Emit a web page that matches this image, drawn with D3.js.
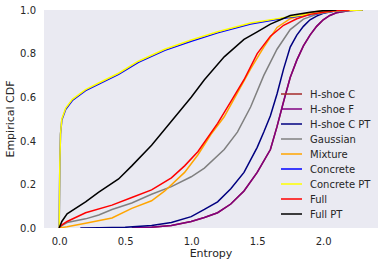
<!DOCTYPE html>
<html>
<head>
<meta charset="utf-8">
<script src="https://cdn.jsdelivr.net/npm/d3@7"></script>
<style>
  body { margin: 0; background: #fff; }
  text { font-family: "DejaVu Sans", sans-serif; fill: #262626; }
</style>
</head>
<body>
<script>
// Size of the svg and the plot area
var width = 386;
var height = 266;
var margin = {left: 44, right: 8, top: 10, bottom: 38};

// Series names and colours, in drawing order
var seriesNames = ["H-shoe C", "H-shoe F", "H-shoe C PT", "Gaussian", "Mixture", "Concrete", "Concrete PT", "Full", "Full PT"];
var seriesColors = ["#a52a2a", "#800080", "#000080", "#808080", "#ffa500", "#0000ff", "#ffff00", "#ff0000", "#000000"];

// Entropy (x) and empirical CDF (y)
var hshoeCX = [0.55, 0.7, 0.85, 1.0, 1.1, 1.2, 1.3, 1.4, 1.5, 1.6, 1.65, 1.7, 1.75, 1.8, 1.85, 1.9, 1.95, 2.0, 2.05, 2.1, 2.2, 2.3];
var hshoeCY = [0, 0.004, 0.012, 0.03, 0.048, 0.07, 0.11, 0.17, 0.255, 0.36, 0.465, 0.58, 0.69, 0.77, 0.835, 0.885, 0.925, 0.955, 0.975, 0.987, 0.998, 1.0];

var hshoeFX = [0.55, 0.7, 0.85, 1.0, 1.1, 1.2, 1.3, 1.4, 1.5, 1.6, 1.65, 1.7, 1.75, 1.8, 1.85, 1.9, 1.95, 2.0, 2.05, 2.1, 2.2, 2.3];
var hshoeFY = [0, 0.004, 0.012, 0.03, 0.048, 0.07, 0.11, 0.17, 0.255, 0.36, 0.465, 0.58, 0.69, 0.77, 0.835, 0.885, 0.925, 0.955, 0.975, 0.987, 0.998, 1.0];

var hshoeCPTX = [0.16, 0.3, 0.5, 0.7, 0.85, 1.0, 1.1, 1.2, 1.3, 1.4, 1.5, 1.55, 1.6, 1.65, 1.7, 1.75, 1.8, 1.85, 1.9, 1.95, 2.0, 2.1, 2.2];
var hshoeCPTY = [0, 0.001, 0.003, 0.012, 0.025, 0.052, 0.085, 0.12, 0.18, 0.255, 0.37, 0.44, 0.515, 0.615, 0.73, 0.83, 0.885, 0.925, 0.955, 0.972, 0.985, 0.997, 1.0];

var gaussianX = [0, 0.03, 0.06, 0.2, 0.3, 0.4, 0.55, 0.7, 0.85, 1.0, 1.1, 1.25, 1.35, 1.45, 1.55, 1.65, 1.75, 1.85, 1.95, 2.05, 2.15];
var gaussianY = [0, 0.015, 0.025, 0.042, 0.06, 0.085, 0.115, 0.155, 0.19, 0.235, 0.275, 0.36, 0.44, 0.555, 0.7, 0.82, 0.91, 0.958, 0.98, 0.993, 1.0];

var mixtureX = [0, 0.06, 0.2, 0.4, 0.55, 0.7, 0.8, 0.95, 1.05, 1.15, 1.25, 1.35, 1.45, 1.55, 1.65, 1.75, 1.85, 1.95, 2.05];
var mixtureY = [0, 0.006, 0.022, 0.046, 0.09, 0.125, 0.17, 0.255, 0.335, 0.43, 0.51, 0.62, 0.73, 0.83, 0.92, 0.96, 0.98, 0.993, 1.0];

var concreteX = [0, 0.005, 0.01, 0.02, 0.05, 0.1, 0.2, 0.3, 0.45, 0.6, 0.8, 1.0, 1.2, 1.45, 1.7, 1.9, 2.1, 2.3];
var concreteY = [0, 0.3, 0.43, 0.495, 0.545, 0.585, 0.63, 0.66, 0.705, 0.76, 0.815, 0.857, 0.895, 0.936, 0.962, 0.978, 0.996, 1.0];

var concretePTX = [0, 0.005, 0.01, 0.02, 0.05, 0.1, 0.2, 0.3, 0.45, 0.6, 0.8, 1.0, 1.2, 1.45, 1.7, 1.9, 2.1, 2.3];
var concretePTY = [0, 0.3, 0.43, 0.5, 0.55, 0.59, 0.635, 0.665, 0.71, 0.765, 0.82, 0.862, 0.9, 0.94, 0.965, 0.98, 0.997, 1.0];

var fullX = [0, 0.01, 0.06, 0.2, 0.4, 0.55, 0.7, 0.85, 0.95, 1.05, 1.2, 1.3, 1.4, 1.5, 1.6, 1.7, 1.8, 1.9, 2.0, 2.1, 2.2];
var fullY = [0, 0.01, 0.03, 0.07, 0.105, 0.14, 0.175, 0.23, 0.285, 0.35, 0.48, 0.58, 0.68, 0.8, 0.88, 0.93, 0.96, 0.98, 0.99, 0.998, 1.0];

var fullPTX = [0, 0.02, 0.06, 0.2, 0.3, 0.45, 0.55, 0.7, 0.85, 1.0, 1.1, 1.25, 1.4, 1.5, 1.6, 1.75, 1.9, 2.0, 2.1];
var fullPTY = [0, 0.03, 0.065, 0.12, 0.165, 0.225, 0.285, 0.38, 0.49, 0.6, 0.68, 0.785, 0.865, 0.9, 0.935, 0.975, 0.99, 0.997, 1.0];

// Tick values
var xTicks = [0.0, 0.5, 1.0, 1.5, 2.0];
var yTicks = [0.0, 0.2, 0.4, 0.6, 0.8, 1.0];

var seriesX = [hshoeCX, hshoeFX, hshoeCPTX, gaussianX, mixtureX, concreteX, concretePTX, fullX, fullPTX];
var seriesY = [hshoeCY, hshoeFY, hshoeCPTY, gaussianY, mixtureY, concreteY, concretePTY, fullY, fullPTY];

var series = seriesNames.map(function(name, i) {
    return {
        name: name,
        color: seriesColors[i],
        points: seriesX[i].map(function(x, j) { return [x, seriesY[i][j]]; })
    };
});

var svg = d3.select("body")
            .append("svg")
            .attr("width", width)
            .attr("height", height);

var x = d3.scaleLinear().domain([-0.115, 2.415]).range([margin.left, width - margin.right]);
var y = d3.scaleLinear().domain([0, 1]).range([height - margin.bottom, margin.top]);

// Plot background
svg.append("rect")
    .attr("x", margin.left)
    .attr("y", margin.top)
    .attr("width", width - margin.left - margin.right)
    .attr("height", height - margin.top - margin.bottom)
    .style("fill", "#eaeaf2");

svg.append("clipPath")
    .attr("id", "plot-clip")
    .append("rect")
    .attr("x", margin.left)
    .attr("y", margin.top)
    .attr("width", width - margin.left - margin.right)
    .attr("height", height - margin.top - margin.bottom);

// Axes (no spines, no tick marks)
var xAxis = svg.append("g")
    .attr("transform", "translate(0," + (height - margin.bottom) + ")")
    .call(d3.axisBottom(x).tickValues(xTicks).tickFormat(d3.format(".1f")).tickSize(0).tickPadding(10));
var yAxis = svg.append("g")
    .attr("transform", "translate(" + margin.left + ",0)")
    .call(d3.axisLeft(y).tickValues(yTicks).tickFormat(d3.format(".1f")).tickSize(0).tickPadding(8));
[xAxis, yAxis].forEach(function(g) {
    g.select(".domain").remove();
    g.selectAll("text").style("font-size", "10px").style("fill", "#262626")
        .style("font-family", "'DejaVu Sans', sans-serif");
});

// Axis labels
svg.append("text")
    .attr("x", (margin.left + width - margin.right) / 2)
    .attr("y", 257)
    .attr("text-anchor", "middle")
    .style("font-size", "11px")
    .text("Entropy");

svg.append("text")
    .attr("transform", "translate(14," + ((margin.top + height - margin.bottom) / 2) + ") rotate(-90)")
    .attr("text-anchor", "middle")
    .style("font-size", "11px")
    .text("Empirical CDF");

// CDF lines
var line = d3.line()
    .x(function(d) { return x(d[0]); })
    .y(function(d) { return y(d[1]); });

svg.append("g")
    .attr("clip-path", "url(#plot-clip)")
    .selectAll("path")
    .data(series)
    .enter()
    .append("path")
    .attr("d", function(d) { return line(d.points); })
    .style("fill", "none")
    .style("stroke", function(d) { return d.color; })
    .style("stroke-width", 1.5);

// Legend
var legendTop = 94;
var legendStep = 15;
var legend = svg.selectAll("g.legend")
    .data(series)
    .enter()
    .append("g")
    .attr("class", "legend");

legend.append("line")
    .attr("x1", 281)
    .attr("x2", 302)
    .attr("y1", function(d, i) { return legendTop + i * legendStep; })
    .attr("y2", function(d, i) { return legendTop + i * legendStep; })
    .style("stroke", function(d) { return d.color; })
    .style("stroke-width", 1.5);

legend.append("text")
    .attr("x", 310)
    .attr("y", function(d, i) { return legendTop + i * legendStep + 3.5; })
    .style("font-size", "10px")
    .text(function(d) { return d.name; });
</script>
</body>
</html>
